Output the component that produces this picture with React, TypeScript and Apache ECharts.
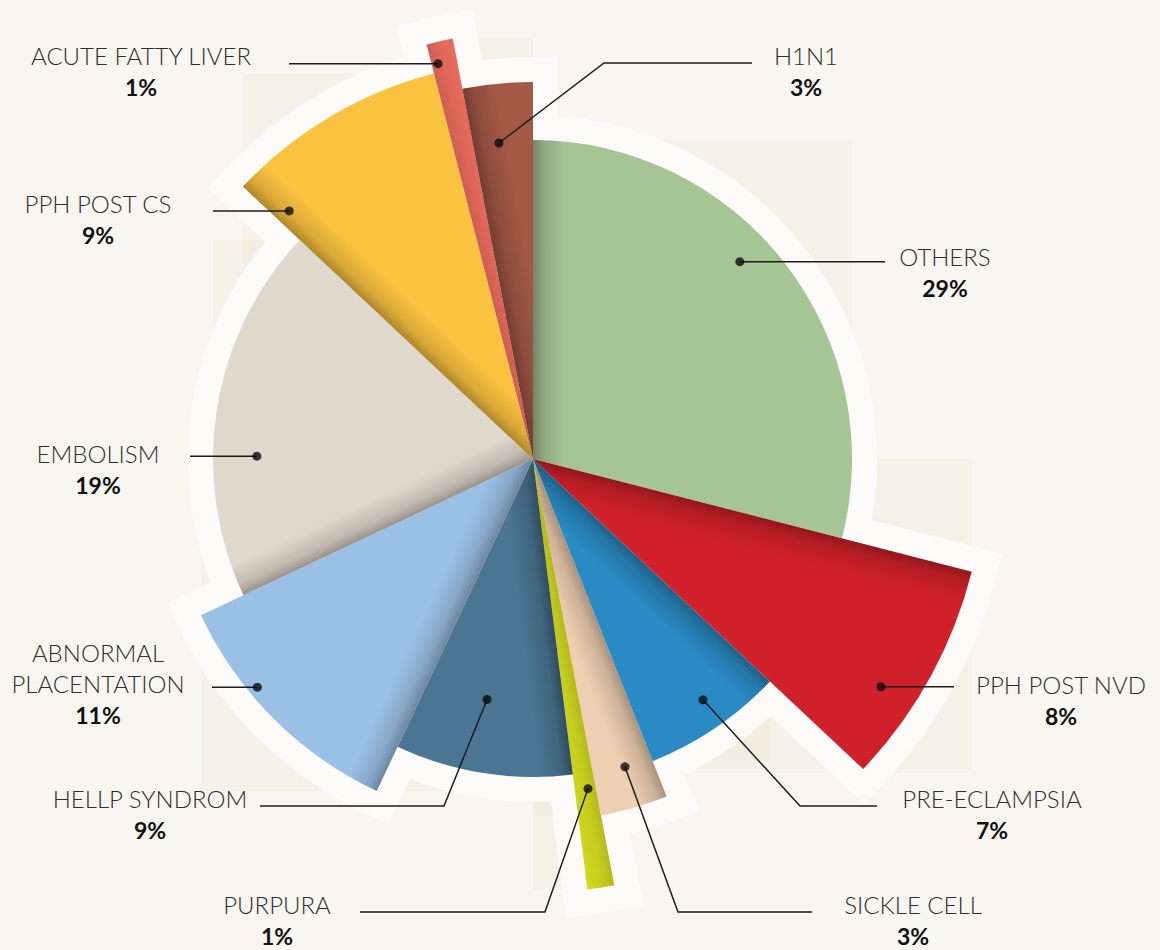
import React, { useEffect, useRef } from 'react';
import * as echarts from 'echarts';

// ---------- data ----------
const categories = [
  'OTHERS', 'PPH POST NVD', 'PRE-ECLAMPSIA', 'SICKLE CELL', 'PURPURA', 'HELLP SYNDROM',
  'ABNORMAL PLACENTATION', 'EMBOLISM', 'PPH POST CS', 'ACUTE FATTY LIVER', 'H1N1',
];
const shares = [29, 8, 7, 3, 1, 9, 11, 19, 9, 1, 3];
const nameLines = [
  ['OTHERS'], ['PPH POST NVD'], ['PRE-ECLAMPSIA'], ['SICKLE CELL'], ['PURPURA'], ['HELLP SYNDROM'],
  ['ABNORMAL', 'PLACENTATION'], ['EMBOLISM'], ['PPH POST CS'], ['ACUTE FATTY LIVER'], ['H1N1'],
];

// ---------- styling / layout ----------
const colors = ['#a6c594', '#d0212a', '#2a8bc4', '#efcfb1', '#d5dd20', '#4a7693', '#9bc0e5', '#e1d8cd', '#fac23f', '#ee6e5e', '#a45846'];
const wedgeRadius = [319, 453, 325, 363, 434, 318, 367, 320, 398, 428, 377];
const shadeDepth = [0.32, 0.3, 0.32, 0.3, 0.16, 0.34, 0.3, 0.32, 0.3, 0.14, 0.3];
const CX = 533;
const CY = 459;
const BORDER_COLOR = '#fcfbf9';
const BORDER_W = 50;
const SHADE_W = 32;
// dot position inside each wedge: fraction of the wedge angle, fraction of its radius
const dotAt = [
  [0.444, 0.896], [0.653, 0.918], [0.46, 0.907], [0.46, 0.885], [0.37, 0.77], [0.556, 0.77],
  [0.636, 0.975], [0.377, 0.863], [0.071, 0.874], [0.25, 0.95], [0.43, 0.843],
];
// label text centre x, first text line centre y, end x of the leader, optional bend point
const labelAt: { tx: number; ty: number; endX: number; bend?: number[] }[] = [
  { tx: 945, ty: 256, endX: 885 },
  { tx: 1061, ty: 684, endX: 954 },
  { tx: 992, ty: 798, endX: 877, bend: [800, 806] },
  { tx: 913, ty: 904, endX: 812, bend: [678, 912] },
  { tx: 277, ty: 904, endX: 360, bend: [545, 912] },
  { tx: 150, ty: 798, endX: 260, bend: [444, 806] },
  { tx: 98, ty: 652, endX: 212 },
  { tx: 98, ty: 453, endX: 190 },
  { tx: 98, ty: 203, endX: 213 },
  { tx: 141, ty: 55, endX: 289 },
  { tx: 806, ty: 55, endX: 752, bend: [604, 63] },
];

const total = shares.reduce((a, b) => a + b, 0);
const starts: number[] = [];
{
  let acc = 0;
  shares.forEach((v) => { starts.push(acc); acc += v; });
}
const toDeg = (p: number) => (p / total) * 360;
const polarPx = (deg: number, r: number) => {
  const t = (deg * Math.PI) / 180;
  return [CX + r * Math.sin(t), CY - r * Math.cos(t)];
};
const shade = (hex: string, k: number) => {
  const n = parseInt(hex.slice(1), 16);
  const f = (c: number) => Math.round(c * (1 - k));
  return `rgb(${f((n >> 16) & 255)},${f((n >> 8) & 255)},${f(n & 255)})`;
};

const NAME_LH = 31;
const rich = {
  n: { fontFamily: 'Lato', fontWeight: 300, fontSize: 24, color: '#2e2e2e', lineHeight: NAME_LH, align: 'center' },
  p: { fontFamily: 'Lato', fontWeight: 'bold', fontSize: 23, color: '#111111', lineHeight: 33, align: 'center' },
};

function dotPoint(i: number) {
  const [af, rf] = dotAt[i];
  return { pct: starts[i] + shares[i] * af, r: wedgeRadius[i] * rf };
}

function wedgeBox(i: number) {
  const a0 = toDeg(starts[i]);
  const a1 = toDeg(starts[i] + shares[i]);
  const R = wedgeRadius[i];
  const pts = [[CX, CY], polarPx(a0, R), polarPx(a1, R)];
  [0, 90, 180, 270, 360].forEach((q) => { if (q > a0 && q < a1) pts.push(polarPx(q, R)); });
  const xs = pts.map((p) => p[0]);
  const ys = pts.map((p) => p[1]);
  const x = Math.min(...xs);
  const y = Math.min(...ys);
  return { x, y, width: Math.max(...xs) - x, height: Math.max(...ys) - y };
}

function buildOption() {
  const transparent = 'rgba(0,0,0,0)';
  const base = {
    type: 'pie',
    center: [CX, CY],
    startAngle: 90,
    clockwise: true,
    avoidLabelOverlap: false,
    silent: true,
    emphasis: { disabled: true },
    label: { show: false },
    labelLine: { show: false },
  };

  // white outline under each wedge
  const underlays = categories.map((_, i) => ({
    ...base,
    z: 2,
    radius: [0, wedgeRadius[i]],
    data: shares.map((v, j) => ({
      value: v,
      name: categories[j],
      itemStyle: j === i
        ? { color: BORDER_COLOR, borderColor: BORDER_COLOR, borderWidth: BORDER_W, borderJoin: 'miter', borderMiterLimit: 4 }
        : { color: transparent, borderWidth: 0 },
    })),
  }));

  // coloured wedges, each with its own outer radius
  const wedges = categories.map((_, i) => {
    const a = (toDeg(starts[i]) * Math.PI) / 180;
    const c = colors[i];
    const k = shadeDepth[i];
    const fill = {
      type: 'linear',
      global: true,
      x: CX,
      y: CY,
      x2: CX + SHADE_W * Math.cos(a),
      y2: CY + SHADE_W * Math.sin(a),
      colorStops: [
        { offset: 0, color: shade(c, k) },
        { offset: 0.35, color: shade(c, k * 0.44) },
        { offset: 1, color: c },
      ],
    };
    return {
      ...base,
      z: 3,
      radius: [0, wedgeRadius[i]],
      data: shares.map((v, j) => ({
        value: v,
        name: categories[j],
        itemStyle: j === i ? { color: fill, borderWidth: 0 } : { color: transparent, borderWidth: 0 },
      })),
    };
  });

  // invisible pie that carries the labels and leader lines above everything
  const labels = {
    ...base,
    z: 5,
    radius: [0, 300],
    itemStyle: { color: transparent, borderWidth: 0 },
    label: {
      show: true,
      position: 'outside',
      formatter: (p: any) => nameLines[p.dataIndex].map((s) => `{n|${s}}`).join('\n') + `\n{p|${shares[p.dataIndex]}%}`,
      rich,
    },
    labelLine: { show: true, lineStyle: { color: '#1c1c1c', width: 1.5 } },
    data: shares.map((v, j) => ({ value: v, name: categories[j] })),
    labelLayout: (params: any) => {
      const i = params.dataIndex;
      const spec = labelAt[i];
      const d = dotPoint(i);
      const dot = polarPx(toDeg(d.pct), d.r);
      const pts = [dot];
      if (spec.bend) {
        pts.push(spec.bend);
        pts.push([spec.endX, spec.bend[1]]);
      } else {
        pts.push([(dot[0] + spec.endX) / 2, dot[1]]);
        pts.push([spec.endX, dot[1]]);
      }
      return {
        x: spec.tx,
        y: spec.ty - NAME_LH / 2,
        align: 'center',
        verticalAlign: 'top',
        labelLinePoints: pts,
      };
    },
  };

  const dots = {
    type: 'scatter',
    coordinateSystem: 'polar',
    z: 7,
    silent: true,
    symbol: 'circle',
    symbolSize: 9,
    itemStyle: { color: '#0d0d0d' },
    data: categories.map((_, i) => {
      const d = dotPoint(i);
      return [d.r, d.pct];
    }),
  };

  const boxes = categories.map((_, i) => ({
    type: 'rect',
    z: 0,
    silent: true,
    shape: wedgeBox(i),
    style: { fill: 'rgba(222,214,180,0.12)' },
  }));

  return {
    animation: false,
    backgroundColor: '#f8f6f0',
    graphic: { elements: boxes },
    polar: { center: [CX, CY], radius: 1000 },
    angleAxis: { type: 'value', min: 0, max: total, startAngle: 90, clockwise: true, show: false },
    radiusAxis: { type: 'value', min: 0, max: 1000, show: false },
    series: [...underlays, ...wedges, labels, dots],
  };
}

export default function App() {
  const ref = useRef<HTMLDivElement>(null);
  useEffect(() => {
    if (!ref.current) return undefined;
    const chart = echarts.init(ref.current, null, { renderer: 'svg' });
    chart.setOption(buildOption() as any);
    return () => chart.dispose();
  }, []);
  return <div ref={ref} style={{ position: 'absolute', left: 0, top: 0, width: 1160, height: 950 }} />;
}
